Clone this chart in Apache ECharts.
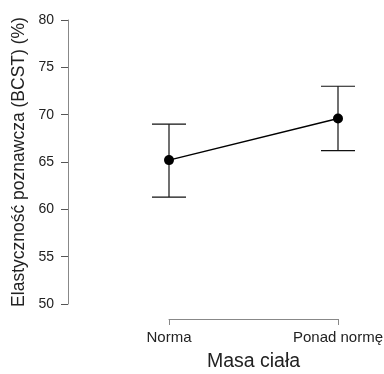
<!DOCTYPE html>
<html>
<head>
<meta charset="utf-8">
<script src="https://cdn.jsdelivr.net/npm/echarts@6/dist/echarts.min.js"></script>
<style>
  html, body {margin: 0; padding: 0; background: #fff;}
  #chart {width: 384px; height: 374px;}
</style>
</head>
<body>
<div id="chart"></div>
<script>
const categories = ['Norma', 'Ponad normę']
const means = [65.2, 69.6]
const lower = [61.3, 66.2]
const upper = [69.0, 73.0]
const yTicks = [50, 55, 60, 65, 70, 75, 80]

const myChart = echarts.init(document.getElementById('chart'))
const font = 'Liberation Sans, Arial, sans-serif'

const errorData = categories.map((c, i) => [i, lower[i], upper[i]])

myChart.setOption({
  animation: false,
  grid: {left: 169, right: 46, top: 20, bottom: 70, outerBoundsMode: 'none', containLabel: false},
  xAxis: {
    type: 'category',
    data: categories,
    boundaryGap: false,
    offset: 15,
    name: 'Masa ciała',
    nameLocation: 'middle',
    nameGap: 33,
    nameTextStyle: {fontFamily: font, fontSize: 19.5, color: '#222'},
    axisLine: {lineStyle: {color: '#888', width: 1}},
    axisTick: {show: true, length: 6, alignWithLabel: true, lineStyle: {color: '#888'}},
    axisLabel: {fontFamily: font, fontSize: 15, color: '#222', margin: 11},
    splitLine: {show: false}
  },
  yAxis: {
    type: 'value',
    min: yTicks[0],
    max: yTicks[yTicks.length - 1],
    interval: 5,
    offset: 101,
    name: 'Elastyczność poznawcza (BCST) (%)',
    nameLocation: 'middle',
    nameGap: 40,
    nameTextStyle: {fontFamily: font, fontSize: 17.5, color: '#222'},
    axisLine: {show: true, lineStyle: {color: '#888', width: 1}},
    axisTick: {show: true, length: 7, lineStyle: {color: '#555'}},
    axisLabel: {fontFamily: font, fontSize: 14, color: '#222', margin: 14},
    splitLine: {show: false}
  },
  series: [
    {
      type: 'custom',
      data: errorData,
      z: 2,
      renderItem(params, api) {
        const x = api.value(0)
        const lo = api.coord([x, api.value(1)])
        const hi = api.coord([x, api.value(2)])
        const half = 17
        const style = {stroke: '#111', lineWidth: 1.2}
        return {
          type: 'group',
          children: [
            {type: 'line', shape: {x1: lo[0], y1: lo[1], x2: hi[0], y2: hi[1]}, style},
            {type: 'line', shape: {x1: lo[0] - half, y1: lo[1], x2: lo[0] + half, y2: lo[1]}, style},
            {type: 'line', shape: {x1: hi[0] - half, y1: hi[1], x2: hi[0] + half, y2: hi[1]}, style}
          ]
        }
      }
    },
    {
      type: 'line',
      data: means,
      z: 3,
      symbol: 'circle',
      symbolSize: 10,
      itemStyle: {color: '#000'},
      lineStyle: {color: '#000', width: 1.5}
    }
  ]
})
</script>
</body>
</html>
